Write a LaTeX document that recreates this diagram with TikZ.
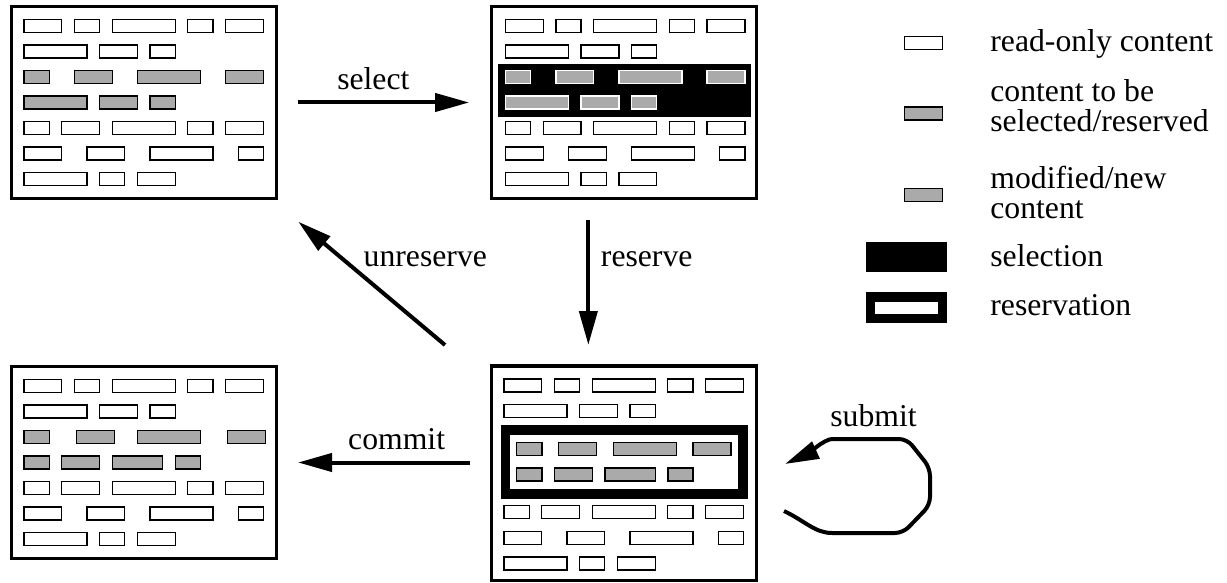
\documentclass[tikz,border=0pt]{standalone}
\usepackage{fontspec}
\setmainfont{Liberation Serif}
\usetikzlibrary{arrows.meta}
\definecolor{cellgray}{HTML}{AAAAAA}
\tikzset{
  cell/.style={draw=black, fill=white, line width=0.65pt},
  gcell/.style={draw=black, fill=cellgray, line width=0.65pt},
  wcell/.style={draw=white, fill=cellgray, line width=0.65pt},
  panel/.style={draw, line width=1.65pt, inner sep=0pt, minimum width=132.35pt},
  flow/.style={line width=2pt, -{Triangle[length=17pt,width=9pt]}},
  lbl/.style={font=\fontsize{15.85pt}{15pt}\selectfont, inner sep=5.3pt}
}
% one row of cells: x origin, top y, style, start/end in grid units
\newcommand{\cellrow}[4]{%
  \foreach \cA/\cB in {#4}
    \draw[#3] ({#1+12.6*\cA},#2) rectangle ({#1+12.6*\cB},{#2+13});}
\begin{document}
\begin{tikzpicture}[x=0.5pt, y=-0.5pt]
\useasboundingbox (0,0) rectangle (1227,583);
\fill[white] (0,0) rectangle (1227,583);
%%% top left: the document before the selection
\node[panel, minimum height=95.85pt] (docinit) at (144,102.5) {};
\cellrow{24}{19.3}{cell}{0/3,4/6,7/12,13/15,16/19}
\cellrow{24}{44.9}{cell}{0/5,6/9,10/12}
\cellrow{24}{70.4}{gcell}{0/2,4/7,9/14,16/19}
\cellrow{24}{96}{gcell}{0/5,6/9,10/12}
\cellrow{24}{121.6}{cell}{0/2,3/6,7/12,13/15,16/19}
\cellrow{24}{147.1}{cell}{0/3,5/8,10/15,17/19}
\cellrow{24}{172.7}{cell}{0/5,6/8,9/12}
%%% top right: selected
\node[panel, minimum height=95.85pt] (docsel) at (623.85,102.5) {};
\fill[black] (497.7,64.3) rectangle (750.7,116.7);
\cellrow{505.5}{19.3}{cell}{0/3,4/6,7/12,13/15,16/19}
\cellrow{505.5}{44.9}{cell}{0/5,6/9,10/12}
\cellrow{505.5}{70.4}{wcell}{0/2,4/7,9/14,16/19}
\cellrow{505.5}{96}{wcell}{0/5,6/9,10/12}
\cellrow{505.5}{121.6}{cell}{0/2,3/6,7/12,13/15,16/19}
\cellrow{505.5}{147.1}{cell}{0/3,5/8,10/15,17/19}
\cellrow{505.5}{172.7}{cell}{0/5,6/8,9/12}
%%% bottom right: reserved
\node[panel, minimum height=107.35pt] (docres) at (623.85,473.3) {};
\cellrow{504}{379}{cell}{0/3,4/6,7/12,13/15,16/19}
\cellrow{504}{404.3}{cell}{0/5,6/9,10/12}
\draw[line width=4.65pt] (505.3,430) rectangle (743,494);
\cellrow{516.7}{442.3}{gcell}{0/2,3.33/6.33,7.67/12.67,14/17}
\cellrow{516.7}{468}{gcell}{0/2,3/6,7/11,12/14}
\cellrow{504}{505.7}{cell}{0/2,3/6,7/12,13/15,16/19}
\cellrow{504}{531.3}{cell}{0/3,5/8,10/15,17/19}
\cellrow{504}{557}{cell}{0/5,6/8,9/12}
%%% bottom left: committed
\node[panel, minimum height=95.85pt] (doccom) at (144,462.5) {};
\cellrow{24}{379.3}{cell}{0/3,4/6,7/12,13/15,16/19}
\cellrow{24}{404.9}{cell}{0/5,6/9,10/12}
\cellrow{24}{430.4}{gcell}{0/2,4.17/7.17,9/14,16.17/19.17}
\cellrow{24}{456}{gcell}{0/2,3/6,7/11,12/14}
\cellrow{24}{481.6}{cell}{0/2,3/6,7/12,13/15,16/19}
\cellrow{24}{507.1}{cell}{0/3,5/8,10/15,17/19}
\cellrow{24}{532.7}{cell}{0/5,6/8,9/12}
%%% transitions
\coordinate (unresfrom) at (445,345);
\coordinate (unresto) at (298.3,221.7);
\coordinate (loopin) at (784,511);
\coordinate (loopout) at (785,464);
\draw[flow, shorten <=10pt, shorten >=10.35pt] (docinit.east) -- node[lbl, pos=0.45, above] (lblsel) {select} (docsel.west);
\draw[flow, shorten <=10pt, shorten >=9.65pt] ([xshift=-17.75pt]docsel.south) -- node[lbl, pos=0.36, right] (lblres) {reserve} ([xshift=-17.75pt]docsel.south |- docres.north);
\draw[flow] (unresfrom) -- node[lbl, pos=0.7, right, xshift=4.4pt] (lblunres) {unreserve} (unresto);
\draw[flow, shorten <=10pt, shorten >=10pt] (docres.west |- doccom.east) -- node[lbl, pos=0.44, above] (lblcom) {commit} (doccom.east);
\draw[flow, rounded corners=4pt] (loopin) .. controls (805,521) and (815,533) .. (840,533) -- (903,533) -- (930,505) -- (930,468) -- (907,439) -- node[lbl, above] (lblsub) {submit} (840,439) .. controls (825,439) and (805,455) .. (loopout);
%%% legend
\draw[cell] (904.3,36.5) rectangle (942.7,49.5);
\draw[gcell] (904.3,107) rectangle (942.7,120);
\draw[gcell] (904.3,188.7) rectangle (942.7,201.7);
\fill[black] (865.7,241.7) rectangle (947.3,272.3);
\draw[line width=4.65pt] (870.35,296.95) rectangle (942.65,318.65);
\node[lbl, anchor=base west] (lgread) at (979.4,52) {read-only content};
\node[lbl, anchor=west, align=left] (lgsel) at (979.4,106) {content to be\\selected/reserved};
\node[lbl, anchor=west, align=left] (lgmod) at (979.4,192) {modified/new\\content};
\node[lbl, anchor=base west] (lgselection) at (979.4,266) {selection};
\node[lbl, anchor=base west] (lgres) at (979.4,315) {reservation};
\end{tikzpicture}
\end{document}
